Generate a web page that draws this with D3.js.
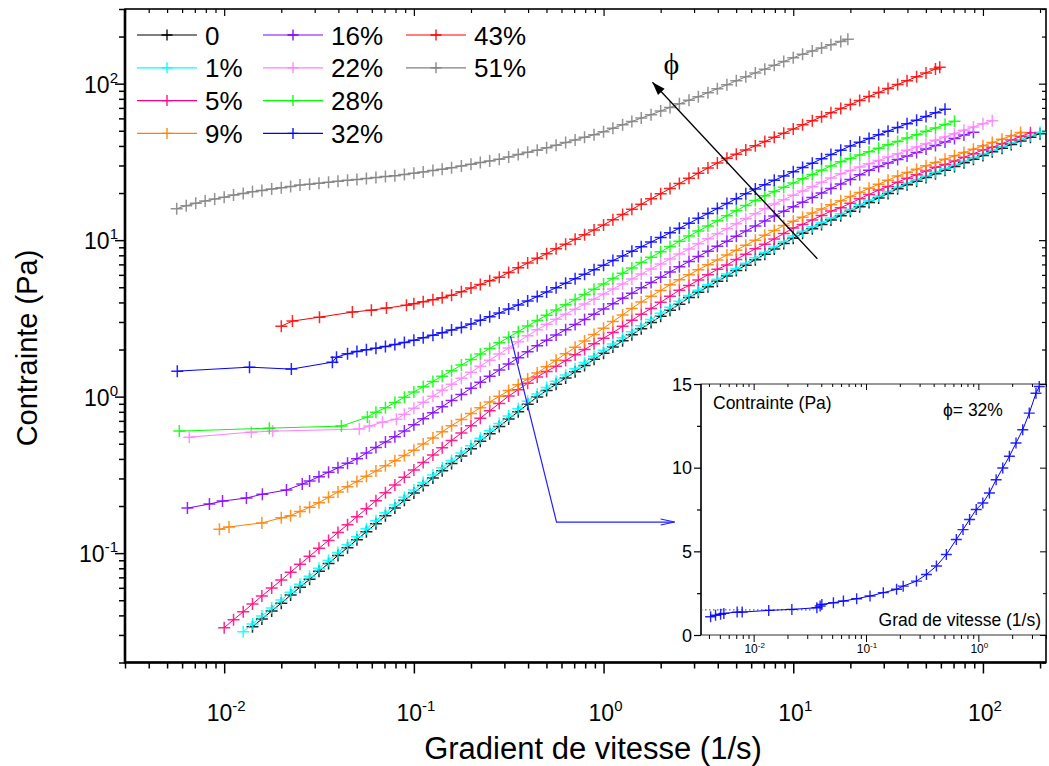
<!DOCTYPE html>
<html>
<head>
<meta charset="utf-8">
<script src="https://cdn.jsdelivr.net/npm/d3@7"></script>
<style>
  body { margin: 0; background: #fff; }
  svg { display: block; font-family: "Liberation Sans", Arial, sans-serif; }
</style>
</head>
<body>
<svg id="chart" width="1049" height="766"></svg>
<script>
// shear rate grid (1/s), 0.05 decade apart, shared by the dense part of every curve
const rateGrid = [
  0.00501, 0.00562, 0.00631, 0.00708, 0.00794, 0.00891, 0.0100, 0.0112, 0.0126, 0.0141,
  0.0158, 0.0178, 0.0200, 0.0224, 0.0251, 0.0282, 0.0316, 0.0355, 0.0398, 0.0447,
  0.0501, 0.0562, 0.0631, 0.0708, 0.0794, 0.0891, 0.100, 0.112, 0.126, 0.141,
  0.158, 0.178, 0.200, 0.224, 0.251, 0.282, 0.316, 0.355, 0.398, 0.447,
  0.501, 0.562, 0.631, 0.708, 0.794, 0.891, 1.00, 1.12, 1.26, 1.41,
  1.58, 1.78, 2.00, 2.24, 2.51, 2.82, 3.16, 3.55, 3.98, 4.47,
  5.01, 5.62, 6.31, 7.08, 7.94, 8.91, 10.0, 11.2, 12.6, 14.1,
  15.8, 17.8, 20.0, 22.4, 25.1, 28.2, 31.6, 35.5, 39.8, 44.7,
  50.1, 56.2, 63.1, 70.8, 79.4, 89.1, 100, 112, 126, 141,
  158, 178, 200
];

const labels = ["0", "1%", "5%", "9%", "16%", "22%", "28%", "32%", "43%", "51%"];
const colors = ["#000000", "#00ffff", "#ff0080", "#ff8000", "#8000ff",
                "#ff80ff", "#00ff00", "#0000ff", "#ff0000", "#808080"];
// first grid index of the dense part of each curve
const gridStart = [9, 8, 6, 13, 15, 25, 22, 19, 26, 1];

// isolated points at low rate [rate, stress]
const low0 = [], low1 = [], low2 = [];
const low9 = [[0.00944, 0.142], [0.0106, 0.147], [0.0158, 0.156], [0.0200, 0.168]];
const low16 = [[0.0064, 0.194], [0.00836, 0.206], [0.0098, 0.215], [0.0131, 0.225],
               [0.0159, 0.238], [0.0213, 0.253], [0.0258, 0.276]];
const low22 = [[0.00655, 0.551], [0.0139, 0.593], [0.0180, 0.602], [0.0516, 0.620],
               [0.0583, 0.648], [0.0683, 0.687], [0.0809, 0.718]];
const low28 = [[0.0058, 0.602], [0.0173, 0.629], [0.0415, 0.648], [0.0569, 0.740]];
const low32 = [[0.00566, 1.455], [0.0136, 1.543], [0.0226, 1.499], [0.0372, 1.661], [0.0391, 1.788]];
const low43 = [[0.0200, 2.82], [0.0229, 3.04], [0.0318, 3.22], [0.0474, 3.47],
               [0.0597, 3.57], [0.0717, 3.68], [0.0914, 3.84]];
const low51 = [];

// stress (Pa) on the rate grid
const stress0 = [0.0338,0.0379,0.0427,0.0479,0.0539,0.0606,0.0680,0.0765,0.0859,0.0966,0.1084,0.1219,0.1370,0.154,0.1731,0.1944,0.2175,0.2424,0.2704,0.3015,0.3356,0.3743,0.4174,0.4653,0.5188,0.5784,0.645,0.7191,0.8019,0.8942,0.996,1.096,1.200,1.315,1.443,1.579,1.732,1.896,2.074,2.272,2.483,2.720,2.975,3.260,3.565,3.900,4.298,4.653,5.038,5.453,5.905,6.394,6.922,7.496,8.127,8.788,9.516,10.30,11.05,11.81,12.58,13.44,14.34,15.29,16.34,17.41,18.60,19.85,21.34,22.59,23.82,25.15,26.52,28.01,29.57,31.18,32.88,34.72,36.66,38.70,40.81,43.03,45.45,47.90];
const stress1 = [0.0314,0.0353,0.0396,0.0446,0.0501,0.0563,0.0633,0.0711,0.0800,0.0898,0.101,0.1133,0.1274,0.1432,0.161,0.1809,0.2032,0.2273,0.2533,0.2826,0.3151,0.3508,0.3912,0.4362,0.4863,0.5422,0.6045,0.6741,0.7516,0.8381,0.9346,1.041,1.145,1.254,1.374,1.508,1.650,1.810,1.982,2.168,2.375,2.595,2.843,3.109,3.407,3.726,4.076,4.426,4.792,5.188,5.616,6.081,6.585,7.129,7.720,8.37,9.05,9.80,10.61,11.38,12.16,12.96,13.84,14.77,15.75,16.83,17.93,19.16,20.44,21.82,23.10,24.36,25.72,27.12,28.64,30.24,31.88,33.62,35.50,37.48,39.57,41.73,44.00,46.47,48.98];
const stress5 = [0.03338,0.03754,0.04214,0.04737,0.05314,0.05985,0.06723,0.07555,0.08495,0.09542,0.1074,0.1205,0.1355,0.1520,0.1710,0.1922,0.2161,0.2428,0.2727,0.3050,0.3399,0.3792,0.4229,0.4708,0.5250,0.5854,0.6526,0.7276,0.8112,0.9046,1.009,1.108,1.218,1.337,1.450,1.564,1.701,1.853,1.998,2.176,2.365,2.567,2.812,3.072,3.366,3.656,4.007,4.382,4.793,5.130,5.554,6.013,6.509,6.945,7.520,8.141,8.816,9.416,10.18,11.03,11.94,12.61,13.47,14.36,15.33,16.13,17.20,18.38,19.58,20.92,21.99,23.48,24.86,26.21,27.67,29.18,30.39,32.09,33.82,35.67,37.67,39.17,41.35,43.61,45.98,48.56];
const stress9 = [0.1736,0.1847,0.1965,0.2102,0.2277,0.2461,0.2660,0.2871,0.3100,0.3346,0.3612,0.3895,0.4203,0.4545,0.4980,0.5446,0.5957,0.6525,0.7139,0.7798,0.8494,0.9237,1.004,1.094,1.190,1.296,1.415,1.555,1.711,1.880,2.065,2.270,2.494,2.740,3.019,3.327,3.661,4.028,4.380,4.771,5.188,5.593,6.011,6.470,6.954,7.472,8.032,8.63,9.28,9.97,10.73,11.51,12.40,13.21,14.03,14.90,15.83,16.81,17.86,18.99,20.17,21.43,22.76,24.17,25.67,27.04,28.38,29.85,31.31,32.88,34.57,36.28,38.08,40.05,42.04,44.20,46.40,48.78];
const stress16 = [0.2893,0.3082,0.3287,0.3508,0.3748,0.4006,0.4362,0.4736,0.5129,0.5544,0.6036,0.6604,0.7225,0.7903,0.8631,0.9443,1.033,1.130,1.236,1.352,1.479,1.618,1.770,1.936,2.118,2.293,2.475,2.677,2.888,3.114,3.367,3.634,3.929,4.248,4.585,4.957,5.358,5.794,6.256,6.761,7.308,7.866,8.482,9.129,9.840,10.59,11.42,12.31,13.27,14.28,15.30,16.37,17.49,18.72,20.00,21.37,22.86,24.43,26.14,27.93,29.53,31.09,32.73,34.46,36.28,38.20,40.22,42.36,44.59,46.95,48.98];
const stress22 = [0.7730,0.8444,0.9209,1.006,1.099,1.198,1.309,1.430,1.564,1.711,1.872,2.048,2.240,2.449,2.680,2.897,3.118,3.362,3.623,3.901,4.198,4.525,4.870,5.250,5.642,6.081,6.546,7.047,7.584,8.162,8.786,9.471,10.19,10.97,11.81,12.71,13.68,14.75,15.87,17.01,18.13,19.34,20.59,21.98,23.41,24.94,26.57,27.88,29.32,30.77,32.31,33.96,35.66,37.48,39.34,41.36,43.42,45.64,47.92,50.30,52.89,55.52,58.0];
const stress28 = [0.7960,0.8481,0.9169,0.9912,1.072,1.158,1.251,1.352,1.464,1.590,1.726,1.875,2.032,2.207,2.396,2.602,2.826,3.064,3.313,3.576,3.867,4.173,4.498,4.863,5.250,5.683,6.144,6.643,7.194,7.775,8.418,9.101,9.840,10.61,11.43,12.32,13.29,14.32,15.44,16.64,17.93,19.19,20.44,21.75,23.17,24.68,26.29,27.97,29.80,31.70,33.27,34.98,36.78,38.66,40.64,42.72,44.92,47.15,49.57,52.11,54.79,57.51];
const stress32 = [1.880,1.944,1.991,2.039,2.090,2.152,2.217,2.293,2.379,2.468,2.564,2.665,2.768,2.914,3.073,3.239,3.421,3.634,3.854,4.088,4.361,4.660,4.972,5.312,5.675,6.054,6.470,6.912,7.408,7.925,8.482,9.075,9.725,10.41,11.13,11.91,12.80,13.78,14.81,15.94,17.14,18.42,19.82,21.25,22.63,24.11,25.67,27.36,29.15,31.05,33.07,35.24,37.53,39.99,42.23,44.59,47.08,49.72,52.50,55.44,58.46,61.72,65.18,68.72];
const stress43 = [3.929,4.046,4.167,4.292,4.446,4.688,4.943,5.212,5.495,5.794,6.209,6.653,7.141,7.649,8.197,8.798,9.428,10.12,10.84,11.62,12.51,13.50,14.58,15.73,16.98,18.36,19.82,21.37,23.03,24.83,26.80,28.89,31.14,33.37,35.45,37.71,40.11,42.66,45.39,48.28,51.34,54.54,57.94,61.45,65.28,69.33,73.54,78.10,82.83,87.86,93.05,98.67,104.5,110.7,117.2,124.2];
const stress51 = [15.9,16.6,17.2,17.8,18.3,18.8,19.4,19.9,20.4,20.8,21.2,21.6,22.0,22.5,22.8,23.1,23.4,23.8,24.1,24.4,24.8,25.1,25.5,25.8,26.3,26.8,27.3,27.9,28.4,29.0,29.8,30.5,31.3,32.1,32.9,34.0,35.2,36.4,37.6,38.9,40.4,42.0,43.7,45.4,47.2,49.3,51.9,54.6,57.3,60.3,63.4,66.9,70.5,74.3,78.4,82.6,87.6,92.8,98.4,104.3,110.6,117.1,123.8,130.9,138.4,146.4,154.3,161.7,169.3,177.4,185.8];

// last point of curves that stop between grid rates
const end43 = [[59.2, 127.5]];
const end51 = [[19.4, 192]];

// inset: 32% curve, linear stress axis
const insetRate = [0.00414,0.00458,0.00508,0.00543,0.00713,0.00791,0.01362,0.02188,0.03653,0.03908,0.04046,0.05129,0.06295,0.0826,0.1086,0.1426,0.1871,0.2143,0.2812,0.3451,0.4236,0.5188,0.6368,0.7303,0.8356,0.9572,1.096,1.255,1.440,1.649,1.889,2.163,2.483,2.838,3.258,3.483];
const insetStress = [1.09,1.18,1.24,1.29,1.37,1.37,1.47,1.53,1.63,1.73,1.83,1.93,2.03,2.17,2.33,2.53,2.73,2.92,3.22,3.62,4.12,4.81,5.71,6.30,6.90,7.50,7.89,8.49,9.28,9.98,10.68,11.47,12.27,13.26,14.45,14.85];
const insetPlateau = 1.5;

const lows = [low0, low1, low2, low9, low16, low22, low28, low32, low43, low51];
const stresses = [stress0, stress1, stress5, stress9, stress16, stress22, stress28, stress32, stress43, stress51];
const ends = [[], [], [], [], [], [], [], [], end43, end51];

const curves = labels.map((name, i) => {
  const pts = lows[i].map(([r, s]) => ({ r, s }));
  stresses[i].forEach((s, j) => pts.push({ r: rateGrid[gridStart[i] + j], s }));
  ends[i].forEach(([r, s]) => pts.push({ r, s }));
  return { name, color: colors[i], pts };
});

const svg = d3.select("#chart");

// main plot
const x = d3.scaleLog().domain([0.003, 215]).range([125, 1046]);
const y = d3.scaleLog().domain([0.02, 300]).range([662.5, 9]);

const xMajor = [0.01, 0.1, 1, 10, 100];
const yMajor = [0.1, 1, 10, 100];

function minors(scale) {
  const [lo, hi] = scale.domain();
  const t = [];
  for (let e = -4; e <= 3; e++)
    for (let m = 2; m < 10; m++) {
      const v = m * Math.pow(10, e);
      if (v >= lo && v <= hi) t.push(v);
    }
  return t;
}

function ticks(axis, values, size, tr, width) {
  const g = svg.append("g").attr("transform", tr)
    .call(axis.tickValues(values).tickSize(size).tickFormat(""));
  g.select(".domain").remove();
  g.selectAll("line").attr("stroke", "#000").attr("stroke-width", width);
  return g;
}

ticks(d3.axisBottom(x), minors(x), 6, "translate(0,662.5)", 1.5);
ticks(d3.axisBottom(x), xMajor, 11, "translate(0,662.5)", 1.5);
ticks(d3.axisLeft(y), minors(y), 6, "translate(125,0)", 1.5);
ticks(d3.axisLeft(y), yMajor, 10, "translate(125,0)", 1.5);
ticks(d3.axisTop(x), minors(x), -4, "translate(0,9)", 1.2);
ticks(d3.axisTop(x), xMajor, -7, "translate(0,9)", 1.2);
ticks(d3.axisRight(y), minors(y), -4, "translate(1046,0)", 1.2);
ticks(d3.axisRight(y), yMajor, -7, "translate(1046,0)", 1.2);

svg.append("rect")
  .attr("x", 125).attr("y", 9).attr("width", 921).attr("height", 653.5)
  .attr("fill", "none").attr("stroke", "#000").attr("stroke-width", 1.6);
svg.append("path")
  .attr("d", "M125,9V662.5H1046")
  .attr("fill", "none").attr("stroke", "#000").attr("stroke-width", 2.6);

function powLabel(sel, v, size, supSize, raise) {
  const e = Math.round(Math.log10(v));
  sel.append("tspan").attr("font-size", size).text("10");
  sel.append("tspan").attr("font-size", supSize).attr("dy", -raise).text(e);
}

xMajor.forEach(v => {
  svg.append("text").attr("x", x(v) + 2).attr("y", 721)
    .attr("text-anchor", "middle")
    .call(powLabel, v, "23px", "15px", 10);
});
yMajor.forEach(v => {
  svg.append("text").attr("x", 118).attr("y", y(v) + 9)
    .attr("text-anchor", "end")
    .call(powLabel, v, "23px", "15px", 10);
});

svg.append("text")
  .attr("x", 593).attr("y", 759)
  .attr("text-anchor", "middle").attr("font-size", "31px")
  .text("Gradient de vitesse (1/s)");
svg.append("text")
  .attr("transform", "translate(37,348) rotate(-90)")
  .attr("text-anchor", "middle").attr("font-size", "29px")
  .text("Contrainte (Pa)");

// curves
const cross = s => `M${-s},0H${s}M0,${-s}V${s}`;
const line = d3.line().x(d => x(d.r)).y(d => y(d.s));

const curveG = svg.append("g");
curves.forEach(c => {
  const g = curveG.append("g");
  g.append("path")
    .attr("d", line(c.pts))
    .attr("fill", "none").attr("stroke", c.color).attr("stroke-width", 1);
  g.selectAll("path.m")
    .data(c.pts)
    .enter().append("path")
    .attr("class", "m")
    .attr("transform", d => `translate(${x(d.r)},${y(d.s)})`)
    .attr("d", cross(6))
    .attr("stroke", c.color).attr("stroke-width", 1.5).attr("stroke-opacity", 0.85);
});

// legend
const legX = [137, 263, 406];
const legend = svg.append("g");
curves.forEach((c, i) => {
  const lx = legX[Math.floor(i / 4)];
  const ly = 35 + 32.8 * (i % 4);
  legend.append("line")
    .attr("x1", lx).attr("x2", lx + 60).attr("y1", ly).attr("y2", ly)
    .attr("stroke", c.color).attr("stroke-width", 1.2);
  legend.append("path")
    .attr("transform", `translate(${lx + 30},${ly})`)
    .attr("d", cross(5.5)).attr("stroke", c.color).attr("stroke-width", 1.3);
  legend.append("text")
    .attr("x", lx + 68).attr("y", ly + 9.5)
    .attr("font-size", "26px")
    .text(c.name);
});

// phi arrow (volume fraction increasing)
const phiArrow = [[13.4, 7.6], [1.81, 102]];
const tail = [x(phiArrow[0][0]), y(phiArrow[0][1])];
const head = [x(phiArrow[1][0]), y(phiArrow[1][1])];
const ang = Math.atan2(head[1] - tail[1], head[0] - tail[0]);
svg.append("line")
  .attr("x1", tail[0]).attr("y1", tail[1]).attr("x2", head[0]).attr("y2", head[1])
  .attr("stroke", "#000").attr("stroke-width", 1.3);
svg.append("path")
  .attr("transform", `translate(${head[0]},${head[1]}) rotate(${ang * 180 / Math.PI})`)
  .attr("d", "M0,0L-13,-4.5L-13,4.5Z").attr("fill", "#000");
svg.append("text")
  .attr("x", x(2.28)).attr("y", y(133) + 10)
  .attr("text-anchor", "middle")
  .attr("font-family", "'Liberation Serif', 'DejaVu Serif', serif")
  .attr("font-size", "30px")
  .text("\u03d5");

// blue pointer from the 28%/32% region to the inset
const pointer = [[0.323, 2.436], [0.565, 0.158], [2.37, 0.158]];
svg.append("path")
  .attr("d", d3.line().x(d => x(d[0])).y(d => y(d[1]))(pointer))
  .attr("fill", "none").attr("stroke", "#2020ff").attr("stroke-width", 1.2);
const tip = [x(pointer[2][0]), y(pointer[2][1])];
svg.append("path")
  .attr("d", `M${tip[0] - 14},${tip[1] - 3}L${tip[0]},${tip[1]}L${tip[0] - 14},${tip[1] + 3}`)
  .attr("fill", "none").attr("stroke", "#2020ff").attr("stroke-width", 1.2);

// inset
const xi = d3.scaleLog().domain([0.0034, 4]).range([701, 1046]);
const yi = d3.scaleLinear().domain([0, 15]).range([635, 384]);

svg.append("rect")
  .attr("x", 701).attr("y", 384).attr("width", 345).attr("height", 251)
  .attr("fill", "#fff").attr("stroke", "#333").attr("stroke-width", 1);

const xiMajor = [0.01, 0.1, 1];
const yiMajor = [0, 5, 10, 15];
const yiMinor = [2.5, 7.5, 12.5];

ticks(d3.axisBottom(xi), minors(xi), 4, "translate(0,635)", 1);
ticks(d3.axisBottom(xi), xiMajor, 7, "translate(0,635)", 1);
ticks(d3.axisTop(xi), minors(xi), -3, "translate(0,384)", 1);
ticks(d3.axisTop(xi), xiMajor, -6, "translate(0,384)", 1);
ticks(d3.axisLeft(yi), yiMinor, 4, "translate(701,0)", 1.2);
ticks(d3.axisLeft(yi), yiMajor, 7, "translate(701,0)", 1.2);
ticks(d3.axisRight(yi), yiMinor, -3, "translate(1046,0)", 1);
ticks(d3.axisRight(yi), yiMajor, -6, "translate(1046,0)", 1);
svg.append("line")
  .attr("x1", 701).attr("x2", 701).attr("y1", 384).attr("y2", 635)
  .attr("stroke", "#000").attr("stroke-width", 1.4);

yiMajor.forEach(v => {
  svg.append("text").attr("x", 692).attr("y", yi(v) + 6.5)
    .attr("text-anchor", "end").attr("font-size", "18px").text(v);
});
xiMajor.forEach(v => {
  svg.append("text").attr("x", xi(v) + 1).attr("y", 653)
    .attr("text-anchor", "middle")
    .call(powLabel, v, "12px", "8px", 5);
});

svg.append("line")
  .attr("x1", xi(0.0034)).attr("x2", xi(0.034))
  .attr("y1", yi(insetPlateau)).attr("y2", yi(insetPlateau))
  .attr("stroke", "#444").attr("stroke-width", 1).attr("stroke-dasharray", "1.5,2.5");

const insetPts = insetRate.map((r, i) => ({ r, s: insetStress[i] }));
svg.append("path")
  .attr("d", d3.line().x(d => xi(d.r)).y(d => yi(d.s))(insetPts))
  .attr("fill", "none").attr("stroke", "#0000ff").attr("stroke-width", 1);
svg.append("g").selectAll("path")
  .data(insetPts)
  .enter().append("path")
  .attr("transform", d => `translate(${xi(d.r)},${yi(d.s)})`)
  .attr("d", cross(5.5))
  .attr("stroke", "#0000ff").attr("stroke-width", 1.4).attr("stroke-opacity", 0.85);

svg.append("text")
  .attr("x", 713).attr("y", 409).attr("font-size", "17.5px")
  .text("Contrainte (Pa)");
svg.append("text")
  .attr("x", 943).attr("y", 416).attr("font-size", "17.5px")
  .text("\u03d5= 32%");
svg.append("text")
  .attr("x", 1041).attr("y", 626).attr("text-anchor", "end").attr("font-size", "17.5px")
  .text("Grad de vitesse (1/s)");
</script>
</body>
</html>
